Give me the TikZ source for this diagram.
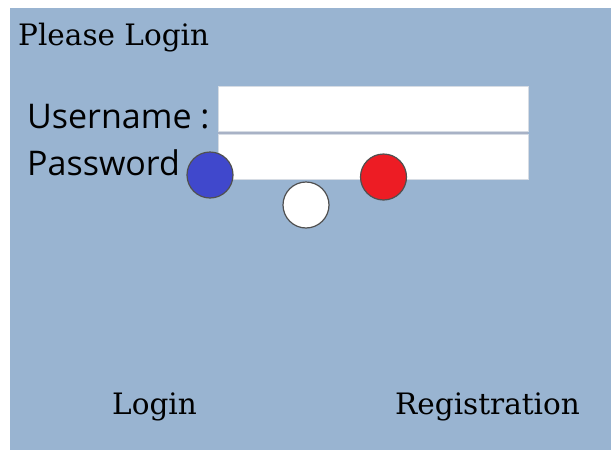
\documentclass[tikz,border=0pt]{standalone}
\usepackage{fontspec}
\newfontfamily\serifui{DejaVu Serif}
\newfontfamily\sansui{Open Sans}
\definecolor{panelbg}{RGB}{153,180,209}
\definecolor{boxedge}{RGB}{214,220,228}
\definecolor{gapline}{RGB}{168,178,198}
\definecolor{dotblue}{RGB}{64,72,204}
\definecolor{dotred}{RGB}{237,28,36}
\definecolor{dotedge}{RGB}{80,80,80}
\begin{document}
\begin{tikzpicture}[x=1pt,y=-1pt,
  serlabel/.style={font=\serifui\fontsize{29.5}{34}\selectfont, inner sep=0pt, anchor=base west},
  sanlabel/.style={font=\sansui\fontsize{34}{38}\selectfont, inner sep=0pt, anchor=base west},
  inputbox/.style={fill=white, draw=boxedge, line width=0.8pt},
  dot/.style={circle, draw=dotedge, line width=1.2pt, minimum size=46pt, inner sep=0pt}]
\useasboundingbox (0,0) rectangle (611,453);
\fill[white] (0,0) rectangle (611,453);
\fill[panelbg] (10,8) rectangle (611,450);
% input boxes
\fill[gapline] (218,130.5) rectangle (528,133.5);
\node[inputbox, minimum width=310pt, minimum height=45pt, anchor=north west] (userbox) at (218,85.5) {};
\node[inputbox, minimum width=310pt, minimum height=45pt, anchor=north west] (passbox) at (218,133.5) {};
% labels
\node[serlabel] (title) at (18,45) {Please Login};
\node[sanlabel] (user) at (27,128) {Username :};
\node[sanlabel] (pass) at (27,175) {Password};
\node[serlabel] (login) at (112,414) {Login};
\node[serlabel] (reg) at (395,414) {Registration};
% dots
\node[dot, fill=dotblue] (blue) at (210,175) {};
\node[dot, fill=white] (wdot) at (306,205) {};
\node[dot, fill=dotred] (red) at (383.5,177) {};
\end{tikzpicture}
\end{document}
